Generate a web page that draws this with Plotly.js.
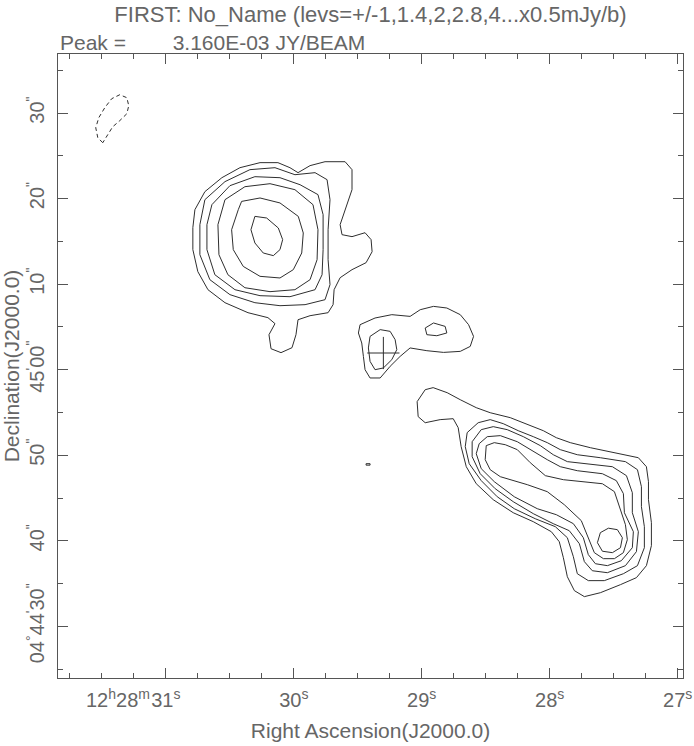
<!DOCTYPE html>
<html><head><meta charset="utf-8">
<script src="https://cdn.plot.ly/plotly-3.0.1.min.js"></script>
<style>html,body{margin:0;padding:0;background:#fff}#chart{width:694px;height:746px}</style>
</head><body><div id="chart"></div>
<script>
// Axis ticks: RA in seconds of time (12h28m..), Dec in arcsec relative to +04d45'00"
const raTicks = [31, 30, 29, 28, 27];
const raTickText = ['31<sup>s</sup>', '30<sup>s</sup>', '29<sup>s</sup>', '28<sup>s</sup>', '27<sup>s</sup>'];
const decTicks = [-30, -20, -10, 0, 10, 20, 30];
const decTickText = ['04<sup>°</sup>44<sup>\'</sup>30<sup>"</sup>', '40<sup>"</sup>', '50<sup>"</sup>', '45<sup>\'</sup>00<sup>"</sup>', '10<sup>"</sup>', '20<sup>"</sup>', '30<sup>"</sup>'];

// Negative contour (-1 level), NE corner
const negRa  = [31.493,31.532,31.548,31.524,31.477,31.423,31.360,31.305,31.290,31.305,31.360,31.415,31.454,31.493];
const negDec = [26.53,27.12,28.29,29.46,30.63,31.68,32.14,31.79,30.86,29.92,29.11,28.40,27.47,26.53];

// Northern lobe contours (levels 1,1.4,2,2.8,4,5.6)
const nLev1Ra  = [30.773,30.695,30.562,30.421,30.264,30.124,30.030,29.967,29.873,29.756,29.599,29.545,29.545,29.599,29.638,29.623,29.545,29.443,29.396,29.388,29.435,29.545,29.638,29.685,29.693,29.732,29.873,29.967,29.983,30.014,30.100,30.178,30.194,30.147,30.202,30.358,30.538,30.671,30.750,30.789,30.789,30.773];
const nLev1Dec = [18.70,20.81,22.44,23.61,24.20,24.20,23.61,23.03,23.85,24.31,24.31,23.38,21.04,18.70,16.95,15.78,15.55,16.01,15.20,13.79,12.51,11.69,10.75,9.35,7.60,6.66,6.31,5.84,4.09,2.57,1.99,2.45,4.09,5.38,6.08,6.66,7.83,9.35,11.46,14.03,16.60,18.70];
const nLev2Ra  = [30.695,30.538,30.343,30.147,29.991,29.834,29.740,29.717,29.732,29.732,29.717,29.756,29.912,30.108,30.304,30.499,30.656,30.734,30.734,30.695];
const nLev2Dec = [19.87,21.98,23.38,23.61,22.79,23.03,22.21,19.87,16.36,12.86,9.94,8.18,7.60,7.48,7.83,8.77,10.52,13.44,16.95,19.87];
const nLev3Ra  = [30.640,30.499,30.304,30.108,29.951,29.811,29.771,29.771,29.779,29.834,30.030,30.264,30.460,30.617,30.679,30.679,30.640];
const nLev3Dec = [19.29,21.51,22.56,22.44,21.62,20.46,18.12,14.03,11.10,9.35,8.53,8.65,9.35,11.10,14.03,16.95,19.29];
const nLev4Ra  = [30.538,30.382,30.186,29.991,29.850,29.811,29.818,29.873,29.991,30.186,30.382,30.515,30.585,30.593,30.538];
const nLev4Dec = [19.87,21.39,21.74,21.04,19.29,16.36,12.86,10.52,9.35,9.12,9.58,11.10,13.44,16.95,19.87];
const nLev5Ra  = [30.408,30.264,30.108,29.965,29.926,29.938,30.004,30.108,30.264,30.395,30.473,30.486,30.434,30.408];
const nLev5Dec = [19.67,20.07,19.49,17.92,15.98,13.64,11.69,10.72,10.91,12.07,14.03,16.36,18.70,19.67];
const nLev6Ra  = [30.304,30.212,30.121,30.087,30.108,30.160,30.239,30.304,30.335,30.304];
const nLev6Dec = [17.92,17.73,16.56,15.20,14.03,13.33,13.64,14.81,16.36,17.92];

// Central component
const cLev1Ra  = [29.482,29.365,29.234,29.091,29.012,28.908,28.804,28.699,28.634,28.595,28.621,28.699,28.830,28.960,29.091,29.169,29.247,29.325,29.404,29.443,29.456,29.469,29.495,29.482];
const cLev1Dec = [5.26,6.04,6.43,6.23,7.01,7.40,7.21,6.43,5.26,3.89,2.72,2.14,2.02,2.22,2.54,1.55,0.39,-0.97,-0.97,0.00,1.55,3.12,4.29,5.26];
const cLev2aRa  = [29.404,29.325,29.247,29.208,29.195,29.234,29.300,29.365,29.404,29.417,29.404];
const cLev2aDec = [3.89,4.68,4.48,3.51,2.34,1.17,0.20,0.00,0.97,2.54,3.89];
const cLev2bRa  = [28.973,28.908,28.817,28.804,28.882,28.960,28.973];
const cLev2bDec = [4.87,5.46,5.06,4.29,3.97,4.09,4.87];
const tinyRa  = [29.435,29.404,29.404,29.435,29.435];
const tinyDec = [-10.99,-10.99,-11.16,-11.16,-10.99];

// Catalogue position marker
const crossRa = [29.300];
const crossDec = [1.95];

// Southern lobe contours
const sLev1Ra  = [28.973,29.036,29.028,28.973,28.856,28.754,28.715,28.692,28.652,28.574,28.441,28.285,28.128,27.987,27.925,27.893,27.862,27.807,27.729,27.604,27.447,27.322,27.244,27.205,27.205,27.228,27.228,27.244,27.307,27.424,27.557,27.682,27.839,27.948,28.050,28.175,28.308,28.465,28.574,28.699,28.801,28.911,28.973];
const sLev1Dec = [-2.34,-3.74,-5.49,-6.20,-5.84,-5.73,-6.78,-9.00,-11.34,-13.33,-15.20,-16.72,-17.77,-18.94,-20.11,-21.98,-24.20,-25.83,-26.53,-26.07,-25.13,-24.31,-22.91,-20.57,-17.88,-15.20,-13.09,-11.34,-10.29,-9.94,-9.58,-9.12,-8.53,-7.95,-7.13,-6.43,-5.61,-5.03,-4.44,-3.51,-2.69,-2.10,-2.34];
const sLev2Ra  = [28.559,28.465,28.363,28.246,28.128,28.019,27.917,27.784,27.604,27.408,27.314,27.283,27.283,27.260,27.260,27.314,27.424,27.573,27.698,27.784,27.815,27.862,27.956,28.113,28.277,28.410,28.535,28.629,28.660,28.645,28.559];
const sLev2Dec = [-6.20,-5.84,-6.31,-7.13,-7.83,-8.53,-9.35,-9.94,-10.29,-10.75,-11.69,-13.68,-16.01,-18.35,-20.81,-22.91,-23.85,-24.66,-24.66,-23.85,-21.86,-19.64,-18.35,-17.42,-16.25,-14.85,-12.97,-10.99,-9.00,-7.36,-6.20];
const sLev3Ra  = [28.535,28.441,28.332,28.206,28.073,27.972,27.862,27.706,27.510,27.400,27.354,27.354,27.307,27.322,27.408,27.549,27.667,27.729,27.768,27.847,27.972,28.128,28.285,28.426,28.543,28.606,28.606,28.535];
const sLev3Dec = [-7.01,-6.66,-7.01,-7.83,-8.88,-9.94,-10.75,-10.99,-11.34,-12.39,-14.38,-16.72,-18.94,-21.27,-22.91,-23.73,-23.50,-22.44,-20.34,-18.82,-18.00,-16.83,-15.43,-13.91,-12.16,-10.17,-8.42,-7.01];
const sLev4Ra  = [28.488,28.386,28.253,28.128,28.019,27.917,27.784,27.588,27.479,27.424,27.416,27.346,27.354,27.440,27.549,27.643,27.698,27.737,27.815,27.948,28.097,28.277,28.433,28.535,28.574,28.551,28.488];
const sLev4Dec = [-7.83,-7.71,-8.42,-9.58,-10.52,-11.34,-11.81,-12.16,-12.97,-14.49,-16.72,-18.94,-20.81,-22.33,-22.91,-22.68,-21.62,-19.64,-18.00,-16.95,-16.25,-14.85,-13.09,-11.57,-9.82,-8.65,-7.83];
const sLev5Ra  = [28.496,28.433,28.347,28.253,28.152,28.034,27.893,27.737,27.588,27.494,27.455,27.408,27.393,27.424,27.494,27.580,27.651,27.690,27.753,27.886,28.019,28.175,28.293,28.386,28.465,28.504,28.496];
const sLev5Dec = [-8.88,-8.53,-8.77,-9.35,-10.87,-12.39,-12.86,-13.09,-13.33,-14.26,-16.13,-18.12,-19.87,-21.39,-22.09,-22.09,-21.39,-19.87,-17.65,-15.78,-14.26,-13.44,-12.97,-12.51,-11.69,-10.52,-8.88];
const sLev6Ra  = [27.604,27.541,27.471,27.432,27.447,27.510,27.588,27.627,27.604];
const sLev6Dec = [-19.05,-18.53,-18.70,-19.64,-20.81,-21.39,-21.22,-20.22,-19.05];

const lineCol = '#2e2e2e';
const txtCol = '#666';
const axCol = '#555';
const fam = '"Liberation Sans", Arial, sans-serif';

function contour(x, y, dash) {
  return {type: 'scatter', mode: 'lines', x: x, y: y,
    line: {color: lineCol, width: 1, dash: dash || 'solid', shape: 'linear'},
    hoverinfo: 'skip', showlegend: false};
}

const traces = [
  contour(negRa, negDec, '4px,3px'),
  contour(nLev1Ra, nLev1Dec), contour(nLev2Ra, nLev2Dec), contour(nLev3Ra, nLev3Dec),
  contour(nLev4Ra, nLev4Dec), contour(nLev5Ra, nLev5Dec), contour(nLev6Ra, nLev6Dec),
  contour(cLev1Ra, cLev1Dec), contour(cLev2aRa, cLev2aDec), contour(cLev2bRa, cLev2bDec),
  contour(tinyRa, tinyDec),
  contour(sLev1Ra, sLev1Dec), contour(sLev2Ra, sLev2Dec), contour(sLev3Ra, sLev3Dec),
  contour(sLev4Ra, sLev4Dec), contour(sLev5Ra, sLev5Dec), contour(sLev6Ra, sLev6Dec),
  {type: 'scatter', mode: 'markers', x: crossRa, y: crossDec, hoverinfo: 'skip', showlegend: false,
   marker: {symbol: 'cross-thin', size: 23, color: lineCol, line: {width: 1, color: lineCol}}}
];

const layout = {
  width: 694, height: 746,
  margin: {l: 58, r: 11, t: 54, b: 68},
  paper_bgcolor: '#fff', plot_bgcolor: '#fff',
  showlegend: false,
  font: {family: fam, size: 20, color: txtCol},
  title: {text: 'FIRST: No_Name (levs=+/-1,1.4,2,2.8,4...x0.5mJy/b)',
    font: {family: fam, size: 22, color: txtCol},
    x: 0.5, xref: 'paper', xanchor: 'center', y: 1 - 14 / 746, yref: 'container', yanchor: 'middle'},
  xaxis: {
    range: [31.843, 26.958], tickmode: 'array', tickvals: raTicks, ticktext: raTickText,
    ticks: 'inside', ticklen: 10, tickwidth: 1, tickcolor: axCol,
    showline: true, linecolor: axCol, linewidth: 1, mirror: 'allticks',
    showgrid: false, zeroline: false,
    minor: {dtick: 0.25, tick0: 0, ticks: 'inside', ticklen: 5, tickwidth: 1, tickcolor: axCol, showgrid: false},
    tickfont: {family: fam, size: 20, color: txtCol},
    ticklabelstandoff: 4,
    title: {text: 'Right Ascension(J2000.0)', font: {family: fam, size: 21, color: txtCol}, standoff: 13}
  },
  yaxis: {
    range: [-36.04, 36.9], tickmode: 'array', tickvals: decTicks, ticktext: decTickText,
    ticks: 'inside', ticklen: 10, tickwidth: 1, tickcolor: axCol, tickangle: -90,
    showline: true, linecolor: axCol, linewidth: 1, mirror: 'allticks',
    showgrid: false, zeroline: false,
    minor: {dtick: 5, tick0: 0, ticks: 'inside', ticklen: 5, tickwidth: 1, tickcolor: axCol, showgrid: false},
    tickfont: {family: fam, size: 20, color: txtCol},
    ticklabelstandoff: 5,
    title: {text: 'Declination(J2000.0)', font: {family: fam, size: 21, color: txtCol}, standoff: 11}
  },
  annotations: [
    {text: 'Peak =\u00a0\u00a0\u00a0\u00a0\u00a0\u00a0\u00a0\u00a03.160E-03 JY/BEAM', xref: 'paper', yref: 'paper',
     x: 0, y: 1, xanchor: 'left', yanchor: 'bottom', yshift: -2, showarrow: false,
     font: {family: fam, size: 21, color: txtCol}},
    {text: '12<sup>h</sup>28<sup>m</sup>', xref: 'x', yref: 'paper', x: 31, y: 0,
     xanchor: 'right', yanchor: 'top', xshift: -14, yshift: -6, showarrow: false,
     font: {family: fam, size: 20, color: txtCol}}
  ]
};

Plotly.newPlot('chart', traces, layout, {staticPlot: true, displayModeBar: false});
</script></body></html>
